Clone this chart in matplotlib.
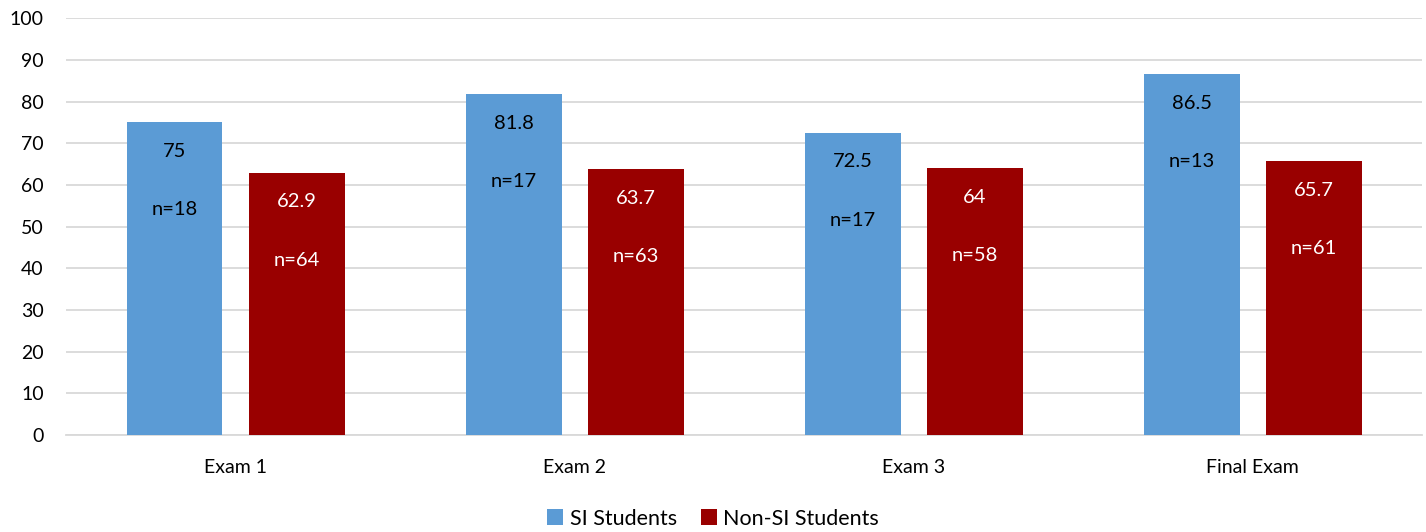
import numpy as np
import matplotlib
matplotlib.use("Agg")
import matplotlib.pyplot as plt

plt.rcParams['font.family'] = ['Lato', 'DejaVu Sans']

# chart data
exams = ["Exam 1", "Exam 2", "Exam 3", "Final Exam"]
si_scores = [75, 81.8, 72.5, 86.5]
non_si_scores = [62.9, 63.7, 64, 65.7]
si_n = [18, 17, 17, 13]
non_si_n = [64, 63, 58, 61]
yticks = [0, 10, 20, 30, 40, 50, 60, 70, 80, 90, 100]

blue = "#5B9BD5"
red = "#990000"

fig = plt.figure(figsize=(14.26, 5.32), dpi=100)
ax = fig.add_axes([0.0463, 0.182, 0.951, 0.784])

x = np.arange(len(exams))
w = 0.283
off = (w + 0.077) / 2

b1 = ax.bar(x - off, si_scores, w, color=blue, label="SI Students", zorder=3)
b2 = ax.bar(x + off, non_si_scores, w, color=red, label="Non-SI Students", zorder=3)

# value + n labels inside bars
def label_bars(bars, vals, ns, col):
    for b, v, n in zip(bars, vals, ns):
        cx = b.get_x() + b.get_width() / 2
        ax.annotate(f"{v:g}", (cx, v), xytext=(0, -21), textcoords="offset points",
                    ha="center", va="center", fontsize=14.5, color=col, zorder=4)
        ax.annotate(f"n={n}", (cx, v), xytext=(0, -63), textcoords="offset points",
                    ha="center", va="center", fontsize=14.5, color=col, zorder=4)

label_bars(b1, si_scores, si_n, "black")
label_bars(b2, non_si_scores, non_si_n, "white")

ax.set_xlim(-0.5, len(exams) - 0.5)
ax.set_ylim(0, 100)
ax.set_yticks(yticks)
ax.set_xticks(x)
ax.set_xticklabels(exams)
ax.tick_params(axis="both", length=0, labelsize=14)
ax.tick_params(axis="x", pad=17)
ax.tick_params(axis="y", pad=16)
ax.grid(axis="y", color="#D9D9D9", linewidth=1.3, zorder=0)
for s in ["top", "right", "left"]:
    ax.spines[s].set_visible(False)
ax.spines["bottom"].set_color("#D9D9D9")
ax.spines["bottom"].set_linewidth(1.3)

fig.legend(handles=[b1, b2], loc="lower center", bbox_to_anchor=(0.5, -0.03), ncol=2,
           frameon=False, fontsize=15.5, handlelength=0.75, handleheight=0.75,
           handletextpad=0.3, columnspacing=1.1)

fig.savefig("out.png", dpi=100)
